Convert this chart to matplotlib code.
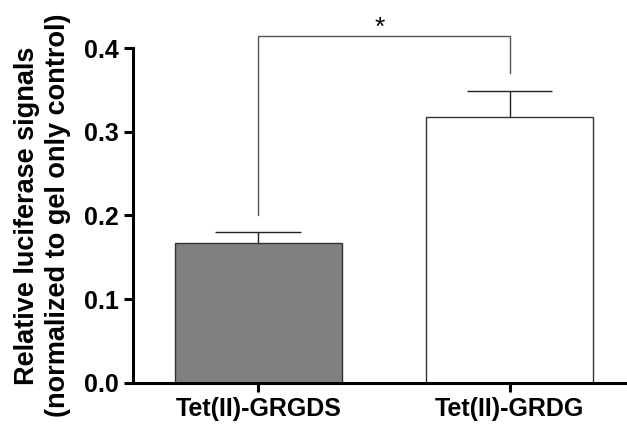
"""Relative luciferase signals bar chart."""

import matplotlib

matplotlib.use("Agg")
import matplotlib.pyplot as plt

groups = ["Tet(II)-GRGDS", "Tet(II)-GRDG"]
means = [0.167, 0.317]
errors = [0.013, 0.032]
colors = ["#808080", "#ffffff"]

# significance bracket: (left foot, top, right foot)
bracket = [0.200, 0.414, 0.370]
sig_label = "*"

plt.rcParams["font.family"] = ["Liberation Sans", "DejaVu Sans"]
plt.rcParams["font.weight"] = "bold"

fig = plt.figure(figsize=(6.27, 4.28), dpi=100)
ax = fig.add_axes([0.2126, 0.1058, 0.7874, 0.7820])

x = list(range(len(groups)))
ax.bar(x, means, width=0.665, color=colors, edgecolor="#333333", linewidth=1.0, zorder=2)

# upper-only error bars with a single cap
tops = [m + e for m, e in zip(means, errors)]
ax.vlines(x, means, tops, color="#222222", linewidth=1.0, zorder=3)
ax.hlines(tops, [xi - 0.17 for xi in x], [xi + 0.17 for xi in x],
          color="#222222", linewidth=1.0, zorder=3)

ax.plot([x[0], x[0], x[1], x[1]], [bracket[0], bracket[1], bracket[1], bracket[2]],
        color="#555555", linewidth=1.0, clip_on=False)
ax.text((x[0] + x[1]) / 2 - 0.015, bracket[1] - 0.004, sig_label, ha="center", va="bottom",
        fontsize=19, fontweight="normal")

ax.set_xlim(-0.497, 1.467)
ax.set_ylim(0, 0.4)
ax.set_yticks([0.0, 0.1, 0.2, 0.3, 0.4])
ax.set_yticklabels(["0.0", "0.1", "0.2", "0.3", "0.4"])
ax.set_xticks(x)
ax.set_xticklabels(groups)

for side in ["top", "right"]:
    ax.spines[side].set_visible(False)
for side in ["left", "bottom"]:
    ax.spines[side].set_linewidth(2.2)

ax.tick_params(axis="both", width=2.2, length=6.5, labelsize=18, pad=4)
ax.set_ylabel("Relative luciferase signals\n(normalized to gel only control)",
              fontsize=19.5, fontweight="bold", labelpad=9, linespacing=1.25)

fig.savefig("out.png", dpi=100)
